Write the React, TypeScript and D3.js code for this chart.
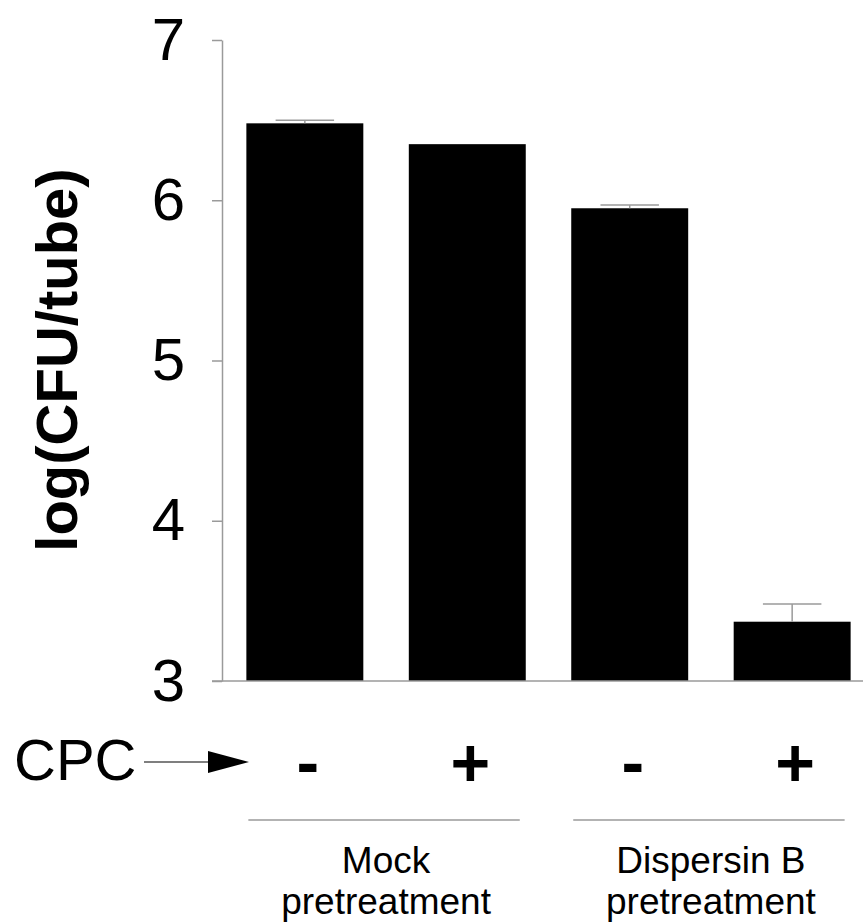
import React, { useEffect, useRef } from "react";
import * as d3 from "d3";

const conditions = ["mock-", "mock+", "disp-", "disp+"];
const cpcSigns = ["-", "+", "-", "+"];
const means = [6.48, 6.35, 5.95, 3.37];
const errors = [0.02, 0, 0.02, 0.11];
const yTicks = [3, 4, 5, 6, 7];
const groups = [
  { lines: ["Mock", "pretreatment"], members: ["mock-", "mock+"] },
  { lines: ["Dispersin B", "pretreatment"], members: ["disp-", "disp+"] },
];

const FONT = "'Liberation Sans', Arial, Helvetica, sans-serif";

const App = () => {
  const ref = useRef<SVGSVGElement | null>(null);

  useEffect(() => {
    const svg = d3.select(ref.current);
    svg.selectAll("*").remove();

    const W = 863;
    const H = 923;
    const axisX = 222;
    const y = d3.scaleLinear().domain([3, 7]).range([681, 40]);
    const x = d3
      .scaleBand()
      .domain(conditions)
      .range([axisX, 875])
      .paddingInner(0.28)
      .paddingOuter(0.15);

    const grey = "#9a9a9a";

    // bars
    svg
      .append("g")
      .selectAll("rect")
      .data(conditions)
      .join("rect")
      .attr("x", (d) => x(d)!)
      .attr("y", (d, i) => y(means[i]))
      .attr("width", x.bandwidth())
      .attr("height", (d, i) => y(3) - y(means[i]))
      .attr("fill", "#000");

    // error bars (upper only)
    const eb = svg.append("g").attr("stroke", grey).attr("stroke-width", 1.5);
    conditions.forEach((c, i) => {
      if (!errors[i]) return;
      const cx = x(c)! + x.bandwidth() / 2;
      const top = y(means[i] + errors[i]);
      eb.append("line")
        .attr("x1", cx)
        .attr("x2", cx)
        .attr("y1", y(means[i]))
        .attr("y2", top);
      eb.append("line")
        .attr("x1", cx - x.bandwidth() / 4)
        .attr("x2", cx + x.bandwidth() / 4)
        .attr("y1", top)
        .attr("y2", top);
    });

    // y axis
    const yAxis = svg
      .append("g")
      .attr("transform", `translate(${axisX},0)`)
      .call(
        d3
          .axisLeft(y)
          .tickValues(yTicks)
          .tickFormat(d3.format("d"))
          .tickSize(10)
          .tickPadding(27)
          .tickSizeOuter(0)
      );
    yAxis.select(".domain").attr("stroke", grey).attr("stroke-width", 1.5);
    yAxis.selectAll(".tick line").attr("stroke", grey).attr("stroke-width", 1.5);
    yAxis
      .selectAll(".tick text")
      .attr("fill", "#000")
      .style("font-family", FONT)
      .style("font-size", "60px");

    // baseline
    svg
      .append("line")
      .attr("x1", axisX - 10)
      .attr("x2", W)
      .attr("y1", y(3))
      .attr("y2", y(3))
      .attr("stroke", grey)
      .attr("stroke-width", 1.5);

    // y title
    svg
      .append("text")
      .attr("transform", "rotate(-90)")
      .attr("x", -360)
      .attr("y", 77)
      .style("text-anchor", "middle")
      .style("font-family", FONT)
      .style("font-size", "58px")
      .style("font-weight", "bold")
      .text("log(CFU/tube)");

    // CPC row
    svg
      .append("text")
      .attr("x", 14)
      .attr("y", 780)
      .style("font-family", FONT)
      .style("font-size", "58px")
      .text("CPC");

    svg
      .append("line")
      .attr("x1", 144)
      .attr("x2", 212)
      .attr("y1", 762)
      .attr("y2", 762)
      .attr("stroke", "#000")
      .attr("stroke-width", 1.2);
    svg
      .append("path")
      .attr("d", "M208,751 L249,762 L208,773 Z")
      .attr("fill", "#000");

    svg
      .append("g")
      .selectAll("text")
      .data(conditions)
      .join("text")
      .attr("x", (d) => x(d)! + x.bandwidth() / 2 + 3)
      .attr("y", 786)
      .style("text-anchor", "middle")
      .style("font-family", FONT)
      .style("font-size", "68px")
      .style("font-weight", "bold")
      .text((d, i) => cpcSigns[i]);

    // group brackets + labels
    groups.forEach((g) => {
      const x0 = x(g.members[0])!;
      const x1 = x(g.members[g.members.length - 1])! + x.bandwidth();
      svg
        .append("line")
        .attr("x1", x0 + 2)
        .attr("x2", x1 - 6)
        .attr("y1", 820)
        .attr("y2", 820)
        .attr("stroke", grey)
        .attr("stroke-width", 1.5);
      g.lines.forEach((line, j) => {
        svg
          .append("text")
          .attr("x", (x0 + x1) / 2)
          .attr("y", 873 + j * 41)
          .style("text-anchor", "middle")
          .style("font-family", FONT)
          .style("font-size", "37px")
          .text(line);
      });
    });

    svg.attr("width", W).attr("height", H);
  }, []);

  return (
    <svg
      ref={ref}
      width={863}
      height={923}
      style={{ position: "absolute", left: 0, top: 0, background: "#fff" }}
    />
  );
};

export default App;
